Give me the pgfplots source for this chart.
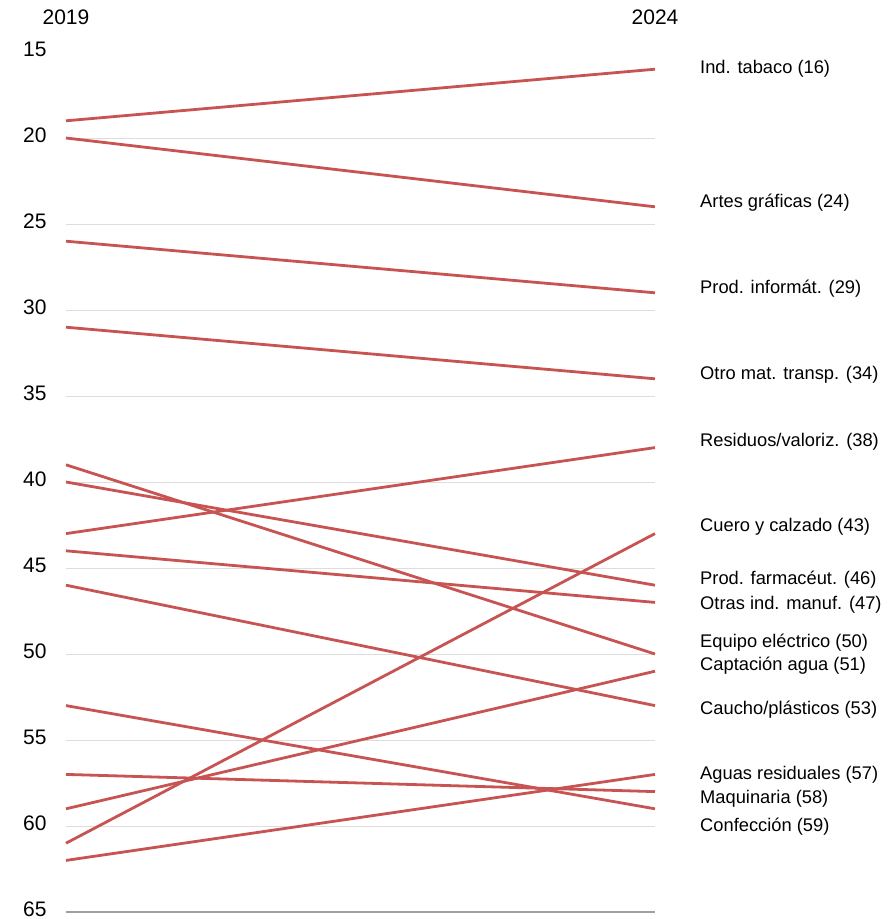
\documentclass[border=0pt]{standalone}
\usepackage{pgfplots}
\pgfplotsset{compat=1.18}
\usepackage{fontspec}
\setmainfont{Liberation Sans}
\definecolor{lred}{RGB}{199,84,82}
\definecolor{gridc}{RGB}{221,221,221}
\definecolor{basec}{RGB}{160,160,160}
\tikzset{sl/.style={lred, solid, line width=2.8bp, mark=none}}
\begin{document}
\begin{tikzpicture}
\useasboundingbox (0,0) rectangle (894bp,919bp);
\begin{axis}[
  at={(66bp,7bp)}, anchor=south west,
  scale only axis, width=589bp, height=860bp,
  xmin=0, xmax=1, ymin=15, ymax=65, y dir=reverse,
  clip=false,
  axis line style={draw=none},
  xtick=\empty,
  ytick={15,20,...,65},
  major tick length=0pt,
  extra y ticks={20,25,...,60},
  extra y tick labels={},
  extra y tick style={grid=major, major grid style={gridc, line width=0.9bp}},
  /pgf/number format/assume math mode=true,
  yticklabel style={font=\fontsize{21bp}{24bp}\selectfont, anchor=east, xshift=-16bp, yshift=3bp},
]
\draw[basec, line width=1.6bp] (axis cs:0,65) -- (axis cs:1,65);
% 2019 -> 2024
\addplot[sl] coordinates {(0,19) (1,16)};
\addplot[sl] coordinates {(0,20) (1,24)};
\addplot[sl] coordinates {(0,26) (1,29)};
\addplot[sl] coordinates {(0,31) (1,34)};
\addplot[sl] coordinates {(0,43) (1,38)};
\addplot[sl] coordinates {(0,61) (1,43)};
\addplot[sl] coordinates {(0,40) (1,46)};
\addplot[sl] coordinates {(0,44) (1,47)};
\addplot[sl] coordinates {(0,39) (1,50)};
\addplot[sl] coordinates {(0,59) (1,51)};
\addplot[sl] coordinates {(0,46) (1,53)};
\addplot[sl] coordinates {(0,62) (1,57)};
\addplot[sl] coordinates {(0,57) (1,58)};
\addplot[sl] coordinates {(0,53) (1,59)};
\begin{scope}[every node/.style={font=\fontsize{18.3bp}{21bp}\selectfont, anchor=west, inner sep=0pt, yshift=-2bp}]
\node at (axis cs:1.0764,15.87) {Ind. tabaco (16)};
\node at (axis cs:1.0764,23.66) {Artes gráficas (24)};
\node at (axis cs:1.0764,28.66) {Prod. informát. (29)};
\node at (axis cs:1.0764,33.66) {Otro mat. transp. (34)};
\node at (axis cs:1.0764,37.56) {Residuos/valoriz. (38)};
\node at (axis cs:1.0764,42.50) {Cuero y calzado (43)};
\node at (axis cs:1.0764,45.58) {Prod. farmacéut. (46)};
\node at (axis cs:1.0764,47.03) {Otras ind. manuf. (47)};
\node at (axis cs:1.0764,49.24) {Equipo eléctrico (50)};
\node at (axis cs:1.0764,50.58) {Captación agua (51)};
\node at (axis cs:1.0764,53.14) {Caucho/plásticos (53)};
\node at (axis cs:1.0764,56.92) {Aguas residuales (57)};
\node at (axis cs:1.0764,58.31) {Maquinaria (58)};
\node at (axis cs:1.0764,59.94) {Confección (59)};
\end{scope}
\node[font=\fontsize{21bp}{24bp}\selectfont] at (axis cs:0,13.0) {2019};
\node[font=\fontsize{21bp}{24bp}\selectfont] at (axis cs:1,13.0) {2024};
\end{axis}
\end{tikzpicture}
\end{document}
